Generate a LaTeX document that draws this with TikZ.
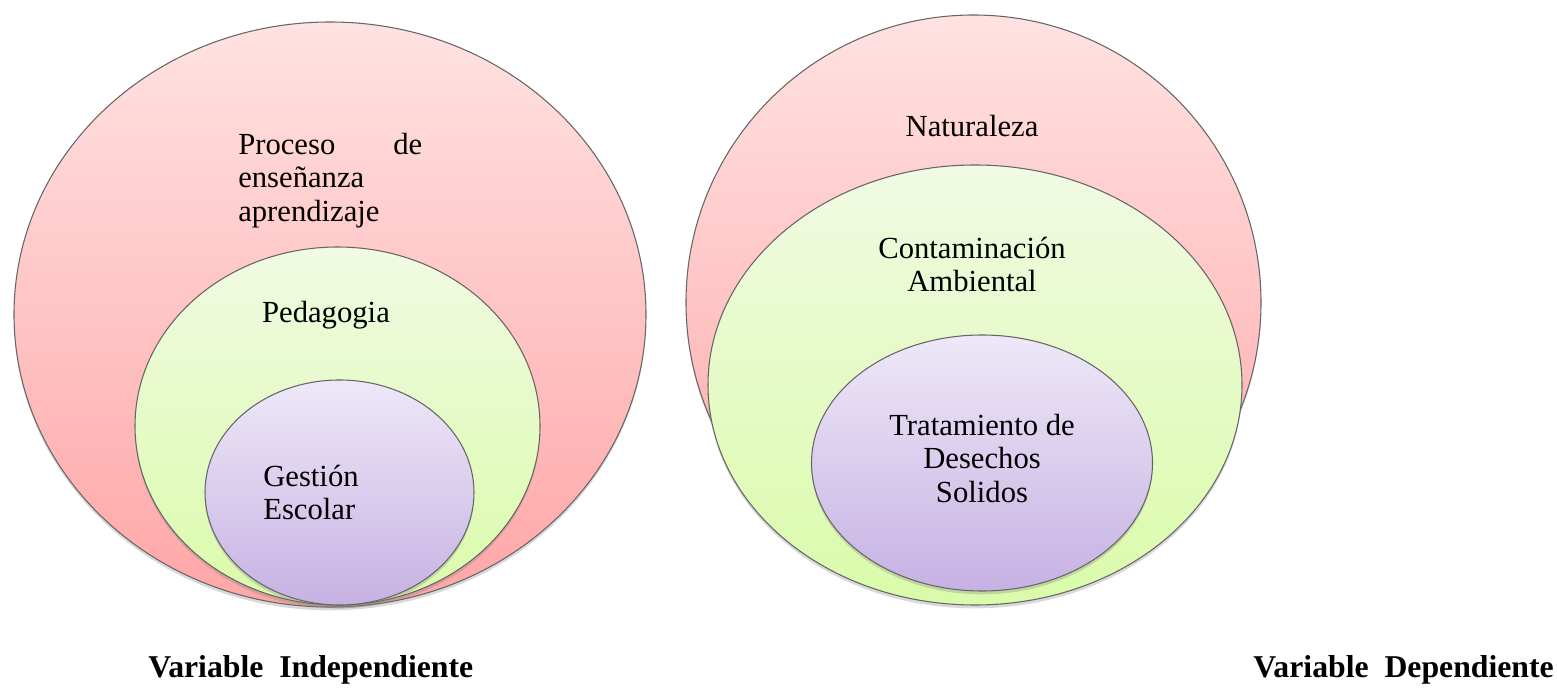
\documentclass[tikz,border=0pt]{standalone}
\usepackage{fontspec}
\setmainfont{Liberation Serif}
\usetikzlibrary{shapes.geometric,shadows}
\tikzset{
  px/.style={x=0.75pt,y=-0.75pt},
  oval/.style={ellipse,inner sep=0pt,draw=black!60,line width=0.8pt,
    drop shadow={opacity=0.3,shadow xshift=0pt,shadow yshift=-2.5pt}},
  pinkfill/.style={top color=pinktop,bottom color=pinkbot},
  greenfill/.style={top color=greentop,bottom color=greenbot},
  violetfill/.style={top color=violettop,bottom color=violetbot},
  label/.style={inner sep=0pt,font=\fontsize{23}{25}\selectfont},
  caption/.style={inner sep=0pt,font=\fontsize{23.8}{26}\selectfont\bfseries}
}
\definecolor{pinktop}{HTML}{FFE2E2}
\definecolor{pinkbot}{HTML}{FFA6A6}
\definecolor{greentop}{HTML}{F1FAE3}
\definecolor{greenbot}{HTML}{DAFBAA}
\definecolor{violettop}{HTML}{EEE8F8}
\definecolor{violetbot}{HTML}{C6B2E3}
\begin{document}
\begin{tikzpicture}[px]
\useasboundingbox (0,0) rectangle (1557,698);
% left group
\node[oval,pinkfill,minimum width=474pt,minimum height=438.75pt] (bigL) at (330,314.5) {};
\node[oval,greenfill,minimum width=303.75pt,minimum height=268.5pt] (midL) at (337.5,426) {};
\node[oval,violetfill,minimum width=201.75pt,minimum height=168.75pt] (inL) at (339.5,492.5) {};
% right group
\node[oval,pinkfill,minimum width=431.25pt,minimum height=431.25pt] (bigR) at (973.5,302.5) {};
\node[oval,greenfill,minimum width=400.5pt,minimum height=330pt] (midR) at (975,385) {};
\node[oval,violetfill,minimum width=255.75pt,minimum height=192pt] (inR) at (982,463) {};
% texts
\node[label,anchor=west,align=left] (tProceso) at (238,180.5)
  {\hbox to 138pt{Proceso\hfill de}\\enseñanza\\aprendizaje};
\node[label,anchor=base] (tPed) at (326,323) {Pedagogia};
\node[label,anchor=west,align=left] (tGes) at (263,492.5) {Gestión\\Escolar};
\node[label,anchor=base] (tNat) at (972,137) {Naturaleza};
\node[label,align=center] (tCon) at (972,264.5) {Contaminación\\Ambiental};
\node[label,align=center] (tTra) at (982,458.5) {Tratamiento de\\Desechos\\Solidos};
\node[caption,anchor=base west] (capL) at (148,677) {Variable\ \ Independiente};
\node[caption,anchor=base east] (capR) at (1554,677) {Variable\ \ Dependiente};
\end{tikzpicture}
\end{document}
